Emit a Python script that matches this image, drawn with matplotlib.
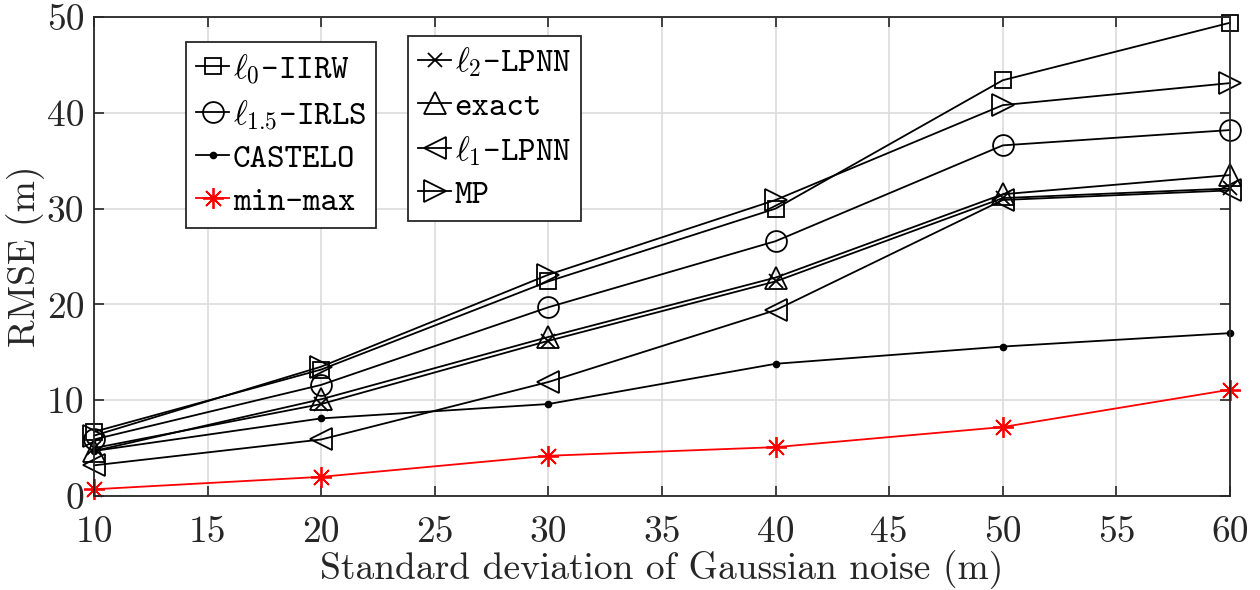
import numpy as np
import matplotlib
matplotlib.use('Agg')
import matplotlib.pyplot as plt

plt.rcParams['font.family'] = ['cmr10', 'DejaVu Serif']
plt.rcParams['mathtext.fontset'] = 'cm'
plt.rcParams['axes.unicode_minus'] = False

sigma = [10, 20, 30, 40, 50, 60]
l0_iirw = [6.7, 13.2, 22.4, 30.0, 43.4, 49.4]
l15_irls = [5.9, 11.6, 19.7, 26.6, 36.6, 38.2]
castelo = [4.7, 8.1, 9.6, 13.8, 15.6, 17.0]
minmax = [0.7, 2.0, 4.2, 5.1, 7.2, 11.1]
l2_lpnn = [5.0, 9.6, 16.2, 22.4, 31.1, 32.1]
exact = [4.7, 10.1, 16.6, 22.8, 31.5, 33.5]
l1_lpnn = [3.2, 5.9, 11.9, 19.4, 30.9, 31.9]
mp = [6.3, 13.5, 23.1, 30.9, 40.8, 43.1]

fig = plt.figure(figsize=(12.6, 5.9), dpi=100)
ax = fig.add_axes([94/1260, 1-496/590, (1230-94)/1260, (496-17)/590])

lw = 1.3
kw = dict(color='k', lw=lw, mfc='none', mew=lw, clip_on=False)
h_l0, = ax.plot(sigma, l0_iirw, marker='s', ms=12, **kw)
h_l15, = ax.plot(sigma, l15_irls, marker='o', ms=15, **kw)
h_cas, = ax.plot(sigma, castelo, marker='.', ms=9, color='k', lw=lw, clip_on=False)
# asterisk marker, 8 spokes like matlab '*'
h_mm, = ax.plot(sigma, minmax, marker=(8, 2, 0), ms=15, color='r', lw=lw, mew=lw, clip_on=False)
h_l2, = ax.plot(sigma, l2_lpnn, marker='x', ms=10, **kw)
h_ex, = ax.plot(sigma, exact, marker='^', ms=16, **kw)
h_l1, = ax.plot(sigma, l1_lpnn, marker='<', ms=16, **kw)
h_mp, = ax.plot(sigma, mp, marker='>', ms=16, **kw)

ax.set_xlim(10, 60)
ax.set_ylim(0, 50)
ax.set_xticks(np.arange(10, 61, 5))
ax.set_yticks(np.arange(0, 51, 10))
ax.grid(True, color='#dcdcdc', lw=1.2)
ax.set_axisbelow(True)
ax.tick_params(direction='in', top=True, right=True, labelsize=27, length=7, width=1.2,
               colors='#262626', labelcolor='#262626')
ax.tick_params(axis='x', pad=14)
ax.tick_params(axis='y', pad=7)
for s in ax.spines.values():
    s.set_color('#262626')
    s.set_linewidth(1.3)

ax.set_xlabel('Standard deviation of Gaussian noise (m)', fontsize=27, labelpad=1, color='#262626')
ax.set_ylabel('RMSE (m)', fontsize=27, labelpad=1, color='#262626')

mono = {'family': 'cmtt10', 'size': 24}
legkw = dict(loc='upper left', prop=mono, handlelength=1.0, handletextpad=0.1,
             borderpad=0.3, labelspacing=0.35, borderaxespad=0, fancybox=False,
             framealpha=1, edgecolor='#262626')
leg1 = ax.legend([h_l0, h_l15, h_cas, h_mm],
                 [r'$\ell_0$-IIRW', r'$\ell_{1.5}$-IRLS', 'CASTELO', 'min-max'],
                 bbox_to_anchor=((186-94)/1136, 1-(42-17)/479), **legkw)
leg1.get_frame().set_linewidth(1.3)
ax.add_artist(leg1)
leg2 = ax.legend([h_l2, h_ex, h_l1, h_mp],
                 [r'$\ell_2$-LPNN', 'exact', r'$\ell_1$-LPNN', 'MP'],
                 bbox_to_anchor=((408-94)/1136, 1-(36-17)/479), **legkw)
leg2.get_frame().set_linewidth(1.3)

fig.savefig('out.png', dpi=100)
